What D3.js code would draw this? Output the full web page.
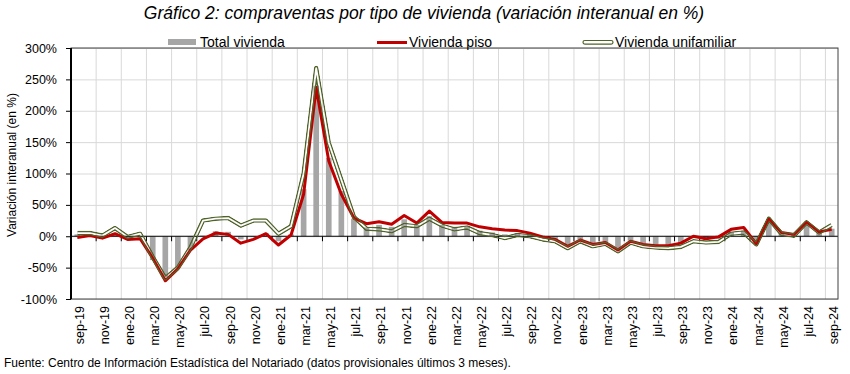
<html>
<head>
  <meta charset="utf-8">
  <title>Compraventas por tipo de vivienda</title>
  <script src="https://d3js.org/d3.v7.min.js"></script>
  <style>
    body { margin: 0; background: #fff; }
    svg { display: block; font-family: "Liberation Sans", Arial, sans-serif; }
    .grid line { stroke: #d9d9d9; stroke-width: 1; }
    .grid path { display: none; }
    .yaxis text { font-size: 12.5px; fill: #000; }
    .yaxis line { stroke: #000; }
    .yaxis path { display: none; }
    .xlabel { font-size: 12.5px; fill: #000; }
    .legend text { font-size: 14px; fill: #000; }
  </style>
</head>
<body>
<script>
  var months = ['sep-19','oct-19','nov-19','dic-19','ene-20','feb-20','mar-20','abr-20','may-20','jun-20',
    'jul-20','ago-20','sep-20','oct-20','nov-20','dic-20','ene-21','feb-21','mar-21','abr-21',
    'may-21','jun-21','jul-21','ago-21','sep-21','oct-21','nov-21','dic-21','ene-22','feb-22',
    'mar-22','abr-22','may-22','jun-22','jul-22','ago-22','sep-22','oct-22','nov-22','dic-22',
    'ene-23','feb-23','mar-23','abr-23','may-23','jun-23','jul-23','ago-23','sep-23','oct-23',
    'nov-23','dic-23','ene-24','feb-24','mar-24','abr-24','may-24','jun-24','jul-24','ago-24','sep-24'];

  var totalVivienda = [3, 3, 0, 4, -3, -2, -38, -66, -50, -22,
    1, 8, 7, -5, -1, 5, -8, 3, 75, 240,
    125, 72, 28, 14, 18, 15, 27, 18, 32, 18,
    15, 16, 9, 6, 3, 5, 2, -2, -6, -14,
    -5, -12, -10, -19, -7, -12, -14, -15, -13, -3,
    -6, -4, 7, 9, -12, 22, 5, 2, 21, 8, 12];

  var viviendaPiso = [-2, 1, -3, 4, -5, -4, -35, -71, -52, -22,
    -4, 5, 3, -11, -5, 4, -14, 2, 67, 237,
    120, 67, 29, 20, 23, 19, 33, 21, 40, 22,
    21, 21, 15, 12, 10, 9, 5, -1, -5, -16,
    -6, -13, -10, -22, -8, -13, -15, -15, -11, 0,
    -4, -1, 11, 14, -12, 28, 6, 3, 23, 7, 11];

  var viviendaUnifamiliar = [5, 5, 1, 13, -1, 4, -33, -67, -50, -18,
    25, 28, 29, 17, 25, 25, 4, 16, 100, 268,
    149, 90, 31, 12, 11, 8, 18, 16, 28, 17,
    11, 14, 5, 2, -3, 2, 0, -5, -8, -19,
    -8, -16, -12, -24, -10, -16, -18, -19, -17, -8,
    -10, -9, 4, 6, -13, 28, 4, 1, 22, 6, 18];

  var yTicks = [-100, -50, 0, 50, 100, 150, 200, 250, 300];

  var width = 850, height = 374;
  var mLeft = 71, mRight = 838, mTop = 48, mBottom = 299;

  var svg = d3.select('body').append('svg')
    .attr('width', width)
    .attr('height', height);

  var x = d3.scaleBand().domain(months).range([mLeft, mRight]);
  var y = d3.scaleLinear().domain([-100, 300]).range([mBottom, mTop]);

  // title
  svg.append('text')
    .attr('x', 424).attr('y', 19)
    .attr('text-anchor', 'middle')
    .style('font-size', '17.5px')
    .style('font-style', 'italic')
    .text('Gráfico 2: compraventas por tipo de vivienda (variación interanual en %)');

  // horizontal grid
  svg.append('g').attr('class', 'grid')
    .attr('transform', 'translate(' + mLeft + ',0)')
    .call(d3.axisLeft(y).tickValues(yTicks).tickSize(-(mRight - mLeft)).tickFormat(''));

  // vertical grid, every two months
  var evenMonths = months.filter(function(d, i) { return i % 2 == 0; });
  svg.append('g').attr('class', 'grid')
    .selectAll('line')
    .data(evenMonths)
    .enter().append('line')
    .attr('x1', function(d) { return x(d); })
    .attr('x2', function(d) { return x(d); })
    .attr('y1', mTop).attr('y2', mBottom);

  // bars
  var bw = x.bandwidth() * 0.45;
  svg.append('g')
    .selectAll('rect')
    .data(totalVivienda)
    .enter().append('rect')
    .attr('x', function(d, i) { return x(months[i]) + x.bandwidth() / 2 - bw / 2; })
    .attr('y', function(d) { return y(Math.max(0, d)); })
    .attr('width', bw)
    .attr('height', function(d) { return Math.abs(y(d) - y(0)); })
    .attr('fill', '#a6a6a6');

  // zero line with ticks
  var zero = svg.append('g');
  zero.append('line')
    .attr('x1', mLeft).attr('x2', mRight)
    .attr('y1', y(0)).attr('y2', y(0))
    .attr('stroke', '#000').attr('stroke-width', 1.2);
  zero.selectAll('.tk')
    .data(evenMonths)
    .enter().append('line')
    .attr('class', 'tk')
    .attr('x1', function(d) { return x(d); })
    .attr('x2', function(d) { return x(d); })
    .attr('y1', y(0)).attr('y2', y(0) + 5)
    .attr('stroke', '#000');

  var line = d3.line()
    .x(function(d, i) { return x(months[i]) + x.bandwidth() / 2; })
    .y(function(d) { return y(d); });

  // piso
  svg.append('path')
    .datum(viviendaPiso)
    .attr('d', line)
    .attr('fill', 'none')
    .attr('stroke', '#c00000')
    .attr('stroke-width', 3)
    .attr('stroke-linejoin', 'round');

  // unifamiliar: double line with transparent gap
  var defs = svg.append('defs');
  var mask = defs.append('mask').attr('id', 'dbl')
    .attr('maskUnits', 'userSpaceOnUse')
    .attr('x', 0).attr('y', 0).attr('width', width).attr('height', height);
  mask.append('path').datum(viviendaUnifamiliar).attr('d', line)
    .attr('fill', 'none').attr('stroke', '#fff').attr('stroke-width', 4.6).attr('stroke-linejoin', 'round');
  mask.append('path').datum(viviendaUnifamiliar).attr('d', line)
    .attr('fill', 'none').attr('stroke', '#000').attr('stroke-width', 1.8).attr('stroke-linejoin', 'round');
  svg.append('path')
    .datum(viviendaUnifamiliar)
    .attr('d', line)
    .attr('fill', 'none')
    .attr('stroke', '#4f6228')
    .attr('stroke-width', 4.6)
    .attr('stroke-linejoin', 'round')
    .attr('mask', 'url(#dbl)');

  // frame
  svg.append('rect')
    .attr('x', mLeft).attr('y', mTop)
    .attr('width', mRight - mLeft).attr('height', mBottom - mTop)
    .attr('fill', 'none').attr('stroke', '#404040').attr('stroke-width', 1);
  svg.append('line')
    .attr('x1', mLeft).attr('x2', mLeft).attr('y1', mTop).attr('y2', mBottom)
    .attr('stroke', '#000').attr('stroke-width', 2);

  // y axis
  svg.append('g').attr('class', 'yaxis')
    .attr('transform', 'translate(' + mLeft + ',0)')
    .call(d3.axisLeft(y).tickValues(yTicks).tickSize(5).tickPadding(9)
      .tickFormat(function(d) { return d + '%'; }));

  svg.append('text')
    .attr('transform', 'translate(16,165) rotate(-90)')
    .attr('text-anchor', 'middle')
    .style('font-size', '12px')
    .text('Variación interanual (en %)');

  // x labels
  svg.append('g')
    .selectAll('text')
    .data(evenMonths)
    .enter().append('text')
    .attr('class', 'xlabel')
    .attr('transform', function(d) {
      return 'translate(' + (x(d) + x.bandwidth() / 2 + 2) + ',' + (mBottom + 7) + ') rotate(-90)';
    })
    .attr('dy', '0.35em')
    .attr('text-anchor', 'end')
    .text(function(d) { return d; });

  // legend
  var lg = svg.append('g').attr('class', 'legend');
  lg.append('rect').attr('x', 168).attr('y', 39).attr('width', 28).attr('height', 6).attr('fill', '#a6a6a6');
  lg.append('text').attr('x', 200).attr('y', 47).text('Total vivienda');
  lg.append('line').attr('x1', 377).attr('x2', 407).attr('y1', 42.5).attr('y2', 42.5)
    .attr('stroke', '#c00000').attr('stroke-width', 3);
  lg.append('text').attr('x', 409).attr('y', 47).text('Vivienda piso');
  lg.append('rect').attr('x', 583).attr('y', 40.5).attr('width', 30).attr('height', 3.6)
    .attr('fill', '#fff').attr('stroke', '#4f6228').attr('stroke-width', 1.2).attr('rx', 1.8);
  lg.append('text').attr('x', 615).attr('y', 47).text('Vivienda unifamiliar');

  // source
  svg.append('text')
    .attr('x', 4).attr('y', 367)
    .style('font-size', '12px')
    .text('Fuente: Centro de Información Estadística del Notariado (datos provisionales últimos 3 meses).');
</script>
</body>
</html>
